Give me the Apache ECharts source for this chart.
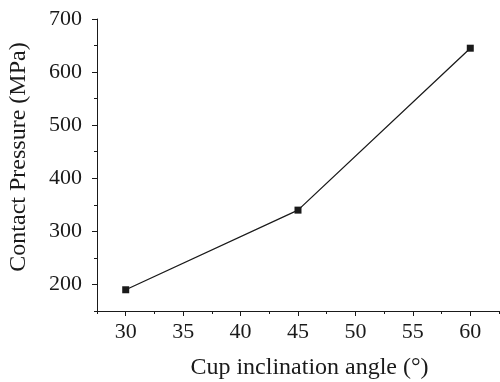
<!DOCTYPE html>
<html>
<head>
<meta charset="utf-8">
<script src="https://cdn.jsdelivr.net/npm/echarts@6/dist/echarts.min.js"></script>
<style>html,body{margin:0;padding:0;background:#fff}#c{width:500px;height:382px}</style>
</head>
<body>
<div id="c"></div>
<script>
const angles = [30, 45, 60];
const pressures = [190, 340, 645];
const xTicks = [30, 35, 40, 45, 50, 55, 60];
const xMinorTicks = [27.5, 32.5, 37.5, 42.5, 47.5, 52.5, 57.5, 62.5];
const yTicks = [200, 300, 400, 500, 600, 700];
const yMinorTicks = [150, 250, 350, 450, 550, 650];
const xTitle = 'Cup inclination angle (°)';
const yTitle = 'Contact Pressure (MPa)';

const font = "'Liberation Serif', 'Times New Roman', Times, serif";
const ink = '#1a1a1a';
const chart = echarts.init(document.getElementById('c'), null, {renderer: 'canvas'});
const baseX = {type: 'value', min: 27.5, max: 62.5, splitLine: {show: false}};
const baseY = {type: 'value', min: 150, max: 700, splitLine: {show: false}};
chart.setOption({
  animation: false,
  backgroundColor: '#fff',
  grid: {left: 97, right: 1, top: 19, bottom: 71, containLabel: false},
  graphic: [
    {type: 'text', x: 309.5, y: 368, silent: true,
     style: {text: xTitle, fontFamily: font, fontSize: 24, fill: ink, textAlign: 'center', textVerticalAlign: 'middle'}},
    {type: 'text', x: 19, y: 157, rotation: Math.PI / 2, silent: true,
     style: {text: yTitle, fontFamily: font, fontSize: 24, fill: ink, textAlign: 'center', textVerticalAlign: 'middle'}}
  ],
  xAxis: [
    Object.assign({}, baseX, {
      axisLine: {show: true, lineStyle: {color: ink, width: 1}},
      axisTick: {show: true, inside: false, length: 5, customValues: xTicks, lineStyle: {color: ink, width: 1}},
      axisLabel: {show: true, margin: 10, customValues: xTicks, fontFamily: font, fontSize: 22, color: ink}
    }),
    Object.assign({}, baseX, {
      position: 'bottom',
      axisLine: {show: false},
      axisTick: {show: true, length: 3, customValues: xMinorTicks, lineStyle: {color: ink, width: 1}},
      axisLabel: {show: false}
    })
  ],
  yAxis: [
    Object.assign({}, baseY, {
      axisLine: {show: true, lineStyle: {color: ink, width: 1}},
      axisTick: {show: true, length: 5, customValues: yTicks, lineStyle: {color: ink, width: 1}},
      axisLabel: {show: true, margin: 15, customValues: yTicks, fontFamily: font, fontSize: 22, color: ink}
    }),
    Object.assign({}, baseY, {
      position: 'left',
      axisLine: {show: false},
      axisTick: {show: true, length: 3, customValues: yMinorTicks, lineStyle: {color: ink, width: 1}},
      axisLabel: {show: false}
    })
  ],
  series: [{
    type: 'line',
    xAxisIndex: 0, yAxisIndex: 0,
    data: angles.map((a, i) => [a, pressures[i]]),
    symbol: 'rect', symbolSize: 7,
    lineStyle: {color: ink, width: 1.3},
    itemStyle: {color: ink},
    emphasis: {disabled: true}
  }]
});
</script>
</body>
</html>
